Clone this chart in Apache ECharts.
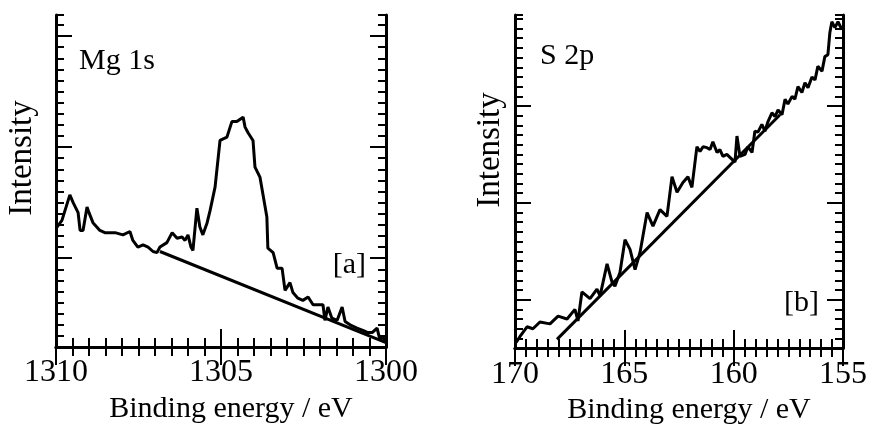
<!DOCTYPE html>
<html>
<head>
<meta charset="utf-8">
<script src="https://cdn.jsdelivr.net/npm/echarts@6/dist/echarts.min.js"></script>
<style>
  html, body { margin: 0; padding: 0; background: #fff; }
  #chart { width: 873px; height: 430px; }
</style>
</head>
<body>
<div id="chart"></div>
<script>
// [a] Mg 1s spectrum (intensity in arbitrary units)
var mgEnergy = [1309.97, 1309.82, 1309.58, 1309.48, 1309.33, 1309.27, 1309.18, 1309.06, 1309.0, 1308.88,
  1308.67, 1308.52, 1308.36, 1308.21, 1307.97, 1307.76, 1307.67, 1307.52, 1307.36, 1307.21,
  1307.06, 1306.94, 1306.85, 1306.64, 1306.48, 1306.33, 1306.18, 1306.09, 1306.0, 1305.91,
  1305.85, 1305.73, 1305.64, 1305.55, 1305.42, 1305.33, 1305.18, 1305.03, 1304.82, 1304.67,
  1304.52, 1304.33, 1304.27, 1304.18, 1304.03, 1303.97, 1303.82, 1303.61, 1303.58, 1303.42,
  1303.30, 1303.15, 1303.06, 1302.91, 1302.82, 1302.67, 1302.52, 1302.36, 1302.21, 1302.06,
  1301.91, 1301.85, 1301.76, 1301.64, 1301.48, 1301.33, 1301.24, 1301.09, 1300.88, 1300.70,
  1300.55, 1300.42, 1300.27, 1300.18, 1300.09, 1300.0];
var mgIntensity = [10.8, 11.4, 13.7, 13.0, 12.1, 10.5, 10.5, 12.6, 12.1, 11.2,
  10.5, 10.3, 10.3, 10.3, 10.1, 10.4, 9.6, 9.0, 9.2, 9.0,
  8.6, 8.5, 9.0, 9.4, 10.3, 9.8, 9.9, 9.6, 10.1, 9.0,
  8.7, 12.5, 10.8, 10.1, 11.2, 12.3, 14.4, 18.6, 18.9, 20.3,
  20.3, 20.7, 19.8, 19.3, 18.6, 16.2, 15.3, 11.7, 8.9, 8.5,
  7.1, 7.1, 5.1, 5.8, 4.9, 4.4, 4.2, 4.5, 3.8, 3.8,
  3.8, 2.4, 3.6, 2.6, 2.4, 3.6, 2.3, 2.0, 1.7, 1.5,
  1.3, 1.3, 1.7, 0.6, 0.9, 0.4];
var mgBaseEnergy = [1306.85, 1300.0];
var mgBaseIntensity = [8.6, 0.4];
var mgMajorY = [8, 18, 28];

// [b] S 2p spectrum
var sEnergy = [169.95, 169.77, 169.45, 169.18, 168.86, 168.40, 168.03, 167.62, 167.26, 167.12,
  166.94, 166.57, 166.25, 166.11, 165.79, 165.56, 165.43, 165.20, 164.97, 164.74,
  164.51, 164.28, 163.96, 163.69, 163.37, 163.05, 162.82, 162.59, 162.32, 162.09,
  161.91, 161.68, 161.54, 161.40, 161.22, 161.08, 160.95, 160.76, 160.63, 160.49,
  160.31, 160.17, 159.94, 159.85, 159.71, 159.48, 159.35, 159.16, 159.03, 158.89,
  158.71, 158.57, 158.43, 158.25, 158.11, 157.97, 157.79, 157.65, 157.52, 157.33,
  157.20, 157.06, 156.88, 156.74, 156.60, 156.42, 156.28, 156.15, 155.96, 155.83,
  155.69, 155.60, 155.51, 155.37, 155.23, 155.05];
var sIntensity = [0.6, 1.2, 2.2, 2.0, 2.7, 2.5, 3.3, 3.0, 4.0, 2.8,
  5.8, 5.1, 6.1, 5.4, 8.7, 6.8, 6.4, 7.8, 11.2, 10.2,
  8.1, 9.9, 14.0, 12.6, 14.3, 13.6, 17.7, 16.1, 17.1, 17.7,
  16.6, 20.8, 20.3, 20.8, 20.7, 20.5, 21.3, 20.2, 20.5, 19.8,
  20.0, 19.7, 19.2, 21.9, 19.8, 20.0, 20.8, 20.2, 22.4, 22.3,
  23.1, 22.4, 23.4, 24.3, 23.9, 24.6, 24.1, 25.7, 25.2, 26.0,
  25.7, 27.0, 26.4, 27.4, 26.9, 28.0, 27.7, 29.1, 28.6, 30.1,
  30.3, 32.6, 33.7, 33.1, 33.7, 32.9];
var sBaseEnergy = [168.08, 157.88];
var sBaseIntensity = [0.9, 24.1];
var sMajorY = [5, 15, 25];

var serif = 'Liberation Serif';

function pairs(xs, ys) {
  return xs.map(function (x, i) { return [x, ys[i]]; });
}

function xAxes(g, min, max, pos) {
  var bottom = pos === 'bottom';
  return {
    gridIndex: g,
    type: 'value',
    position: pos,
    min: min,
    max: max,
    interval: 5,
    inverse: true,
    axisLine: { lineStyle: { color: '#000', width: 3 } },
    axisTick: { inside: true, length: 18, lineStyle: { color: '#000', width: 2 } },
    minorTick: { show: true, splitNumber: 10, length: 9, lineStyle: { color: '#000', width: 2 } },
    splitLine: { show: false },
    axisLabel: {
      show: bottom, color: '#000', fontFamily: serif, fontSize: 32, margin: 10,
      formatter: function (v) { return String(v); }
    },
    name: bottom ? 'Binding energy / eV' : '',
    nameLocation: 'middle',
    nameGap: 40,
    nameTextStyle: { color: '#000', fontFamily: serif, fontSize: 30, padding: [0, 0, 0, 20] }
  };
}

function yMinor(g, max, pos) {
  return {
    gridIndex: g,
    type: 'value',
    position: pos,
    min: 0,
    max: max,
    interval: 1,
    axisLine: { show: true, lineStyle: { color: '#000', width: 3 } },
    axisTick: { inside: true, length: 8, lineStyle: { color: '#000', width: 2 } },
    axisLabel: { show: false },
    splitLine: { show: false }
  };
}

function yMajor(g, max, pos, vals) {
  return {
    gridIndex: g,
    type: 'value',
    position: pos,
    min: 0,
    max: max,
    axisLine: { show: false },
    axisTick: { inside: true, length: 16, customValues: vals, lineStyle: { color: '#000', width: 2 } },
    axisLabel: { show: false },
    splitLine: { show: false }
  };
}

function lineSeries(xi, yi, data) {
  return {
    type: 'line',
    xAxisIndex: xi,
    yAxisIndex: yi,
    data: data,
    showSymbol: false,
    silent: true,
    lineStyle: { color: '#000', width: 3 }
  };
}

function label(text, x, y, align, rot, size) {
  return {
    type: 'text',
    x: x,
    y: y,
    rotation: rot || 0,
    style: {
      text: text,
      fill: '#000',
      font: (size || 30) + 'px "Liberation Serif"',
      textAlign: align,
      textVerticalAlign: 'middle'
    }
  };
}

var chart = echarts.init(document.getElementById('chart'));
chart.setOption({
  animation: false,
  backgroundColor: '#fff',
  grid: [
    { left: 56, top: 15, width: 330, height: 332 },
    { left: 515, top: 15, width: 328, height: 334 }
  ],
  xAxis: [
    xAxes(0, 1300, 1310, 'bottom'),
    xAxes(0, 1300, 1310, 'top'),
    xAxes(1, 155, 170, 'bottom'),
    xAxes(1, 155, 170, 'top')
  ],
  yAxis: [
    yMinor(0, 29.9, 'left'),
    yMinor(0, 29.9, 'right'),
    yMajor(0, 29.9, 'left', mgMajorY),
    yMajor(0, 29.9, 'right', mgMajorY),
    yMinor(1, 34.4, 'left'),
    yMinor(1, 34.4, 'right'),
    yMajor(1, 34.4, 'left', sMajorY),
    yMajor(1, 34.4, 'right', sMajorY)
  ],
  series: [
    lineSeries(0, 0, pairs(mgEnergy, mgIntensity)),
    lineSeries(0, 0, pairs(mgBaseEnergy, mgBaseIntensity)),
    lineSeries(2, 4, pairs(sEnergy, sIntensity)),
    lineSeries(2, 4, pairs(sBaseEnergy, sBaseIntensity))
  ],
  graphic: [
    label('Intensity', 22, 158, 'center', Math.PI / 2, 33),
    label('Intensity', 490, 150, 'center', Math.PI / 2, 33),
    label('Mg 1s', 79, 61, 'left'),
    label('S 2p', 540, 56, 'left'),
    label('[a]', 366, 265, 'right'),
    label('[b]', 819, 303, 'right')
  ]
});
</script>
</body>
</html>
